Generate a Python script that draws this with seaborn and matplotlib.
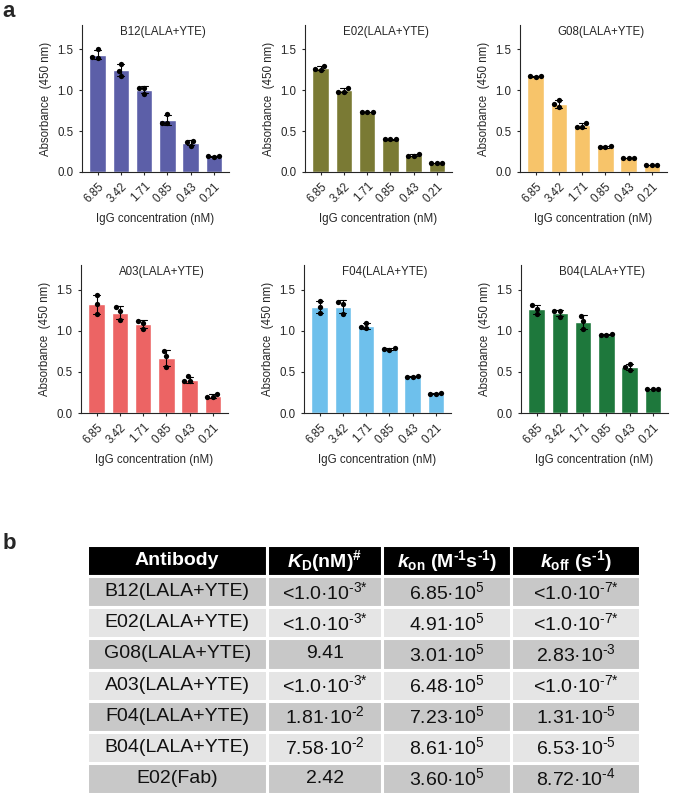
import matplotlib.pyplot as plt
import numpy as np
import pandas as pd
import seaborn as sns

# --- data ---
conc_labels = ['6.85', '3.42', '1.71', '0.85', '0.43', '0.21']

# three replicates per concentration (absorbance at 450 nm)
b12 = [[1.50, 1.41, 1.40], [1.32, 1.24, 1.18], [1.03, 1.03, 0.96],
       [0.71, 0.60, 0.60], [0.38, 0.37, 0.32], [0.185, 0.19, 0.19]]
e02 = [[1.30, 1.26, 1.25], [1.03, 0.985, 0.985], [0.74, 0.735, 0.73],
       [0.41, 0.40, 0.40], [0.22, 0.20, 0.20], [0.11, 0.11, 0.105]]
g08 = [[1.165, 1.175, 1.17], [0.88, 0.83, 0.79], [0.60, 0.555, 0.555],
       [0.32, 0.30, 0.30], [0.175, 0.175, 0.17], [0.085, 0.09, 0.085]]
a03 = [[1.43, 1.33, 1.20], [1.29, 1.24, 1.13], [1.115, 1.095, 1.025],
       [0.75, 0.69, 0.56], [0.445, 0.385, 0.385], [0.235, 0.20, 0.195]]
f04 = [[1.365, 1.29, 1.22], [1.35, 1.32, 1.20], [1.10, 1.03, 1.04],
       [0.765, 0.785, 0.78], [0.435, 0.45, 0.44], [0.23, 0.24, 0.23]]
b04 = [[1.31, 1.27, 1.20], [1.24, 1.24, 1.17], [1.185, 1.125, 1.02],
       [0.945, 0.955, 0.95], [0.59, 0.56, 0.52], [0.29, 0.29, 0.29]]

panel_names = ['B12(LALA+YTE)', 'E02(LALA+YTE)', 'G08(LALA+YTE)',
               'A03(LALA+YTE)', 'F04(LALA+YTE)', 'B04(LALA+YTE)']
panel_data = [b12, e02, g08, a03, f04, b04]
panel_colors = ['#5c5fa8', '#7a7a34', '#f7c46a', '#ec6464', '#6ec0ec', '#1e783c']

# kinetics table (‐ is a short hyphen so the exponents keep the short dash)
table_header = ['Antibody', r'$\mathit{K}_{D}$(nM)$^{\#}$',
                r'$\mathit{k}_{on}$ (M$^{‐1}$s$^{‐1}$)', r'$\mathit{k}_{off}$ (s$^{‐1}$)']
antibodies = ['B12(LALA+YTE)', 'E02(LALA+YTE)', 'G08(LALA+YTE)', 'A03(LALA+YTE)',
              'F04(LALA+YTE)', 'B04(LALA+YTE)', 'E02(Fab)']
kd_values = [r'<1.0·$10^{‐3{*}}$', r'<1.0·$10^{‐3{*}}$', '9.41', r'<1.0·$10^{‐3{*}}$',
             r'1.81·$10^{‐2}$', r'7.58·$10^{‐2}$', '2.42']
kon_values = [r'6.85·$10^{5}$', r'4.91·$10^{5}$', r'3.01·$10^{5}$', r'6.48·$10^{5}$',
              r'7.23·$10^{5}$', r'8.61·$10^{5}$', r'3.60·$10^{5}$']
koff_values = [r'<1.0·$10^{‐7{*}}$', r'<1.0·$10^{‐7{*}}$', r'2.83·$10^{‐3}$', r'<1.0·$10^{‐7{*}}$',
               r'1.31·$10^{‐5}$', r'6.53·$10^{‐5}$', r'8.72·$10^{‐4}$']

# --- style ---
sns.set_theme(style='ticks')
plt.rcParams['font.family'] = ['Liberation Sans', 'DejaVu Sans']
plt.rcParams['mathtext.fontset'] = 'custom'
plt.rcParams['mathtext.rm'] = 'Liberation Sans'
plt.rcParams['mathtext.it'] = 'Liberation Sans:italic:bold'
plt.rcParams['mathtext.bf'] = 'Liberation Sans:bold'
plt.rcParams['mathtext.default'] = 'regular'
plt.rcParams['axes.linewidth'] = 0.8
plt.rcParams['xtick.major.width'] = 0.8
plt.rcParams['ytick.major.width'] = 0.8
plt.rcParams['xtick.major.size'] = 2.5
plt.rcParams['ytick.major.size'] = 2.5

W, H = 675, 796
fig = plt.figure(figsize=(W / 100, H / 100), dpi=100)

# axes boxes in pixels: left, top, width, height
boxes = [(82, 25, 147, 147), (305, 25, 147, 147), (520, 25, 147, 147),
         (81, 265, 147, 148), (304, 265, 147, 148), (521, 265, 147, 148)]

for name, reps, color, (l, t, w, h) in zip(panel_names, panel_data, panel_colors, boxes):
    ax = fig.add_axes([l / W, 1 - (t + h) / H, w / W, h / H])
    rows = []
    for c, vals in zip(conc_labels, reps):
        for v in vals:
            rows.append({'conc': c, 'abs': v})
    df = pd.DataFrame(rows)

    sns.barplot(data=df, x='conc', y='abs', order=conc_labels, color=color,
                saturation=1, width=0.7, errorbar='sd', capsize=0.3,
                err_kws={'color': 'black', 'linewidth': 0.8}, ax=ax)
    sns.swarmplot(data=df, x='conc', y='abs', order=conc_labels, color='black',
                  size=3.8, ax=ax)

    ax.set_xlim(-0.67, 5.65)
    ax.set_ylim(0, 1.8)
    ax.set_yticks([0, 0.5, 1.0, 1.5])
    ax.set_yticklabels(['0.0', '0.5', '1.0', '1.5'], fontsize=8.3)
    ax.set_xticks(range(len(conc_labels)))
    ax.set_xticklabels(conc_labels, rotation=45, ha='right', rotation_mode='anchor', fontsize=8.3)
    ax.set_xlabel('IgG concentration (nM)', fontsize=8.3, labelpad=6)
    ax.set_ylabel('Absorbance  (450 nm)', fontsize=8.3, labelpad=4)
    ax.text(0.55, 0.995, name, transform=ax.transAxes, ha='center', va='top', fontsize=8.3)
    sns.despine(ax=ax)

fig.text(0.004, 0.999, 'a', fontsize=16, fontweight='bold', va='top', ha='left')
fig.text(0.004, 1 - 533 / H, 'b', fontsize=16, fontweight='bold', va='top', ha='left')

# --- table ---
tax = fig.add_axes([87 / W, 1 - 794 / H, (640 - 87) / W, (794 - 545) / H])
tax.axis('off')
cell_text = [list(r) for r in zip(antibodies, kd_values, kon_values, koff_values)]
tbl = tax.table(cellText=cell_text, colLabels=table_header, cellLoc='center',
                colWidths=[181, 115, 130, 129], bbox=[0, 0, 1, 1])
tbl.auto_set_font_size(False)
for (r, c), cell in tbl.get_celld().items():
    cell.set_edgecolor('white')
    cell.set_linewidth(2.2)
    if r == 0:
        cell.set_facecolor('black')
        cell.set_text_props(color='white', fontweight='bold', fontsize=14)
    else:
        cell.set_facecolor('#c8c8c8' if r % 2 == 1 else '#e5e5e5')
        cell.set_text_props(color='#111111', fontsize=14)

fig.savefig('out.png', dpi=100)
